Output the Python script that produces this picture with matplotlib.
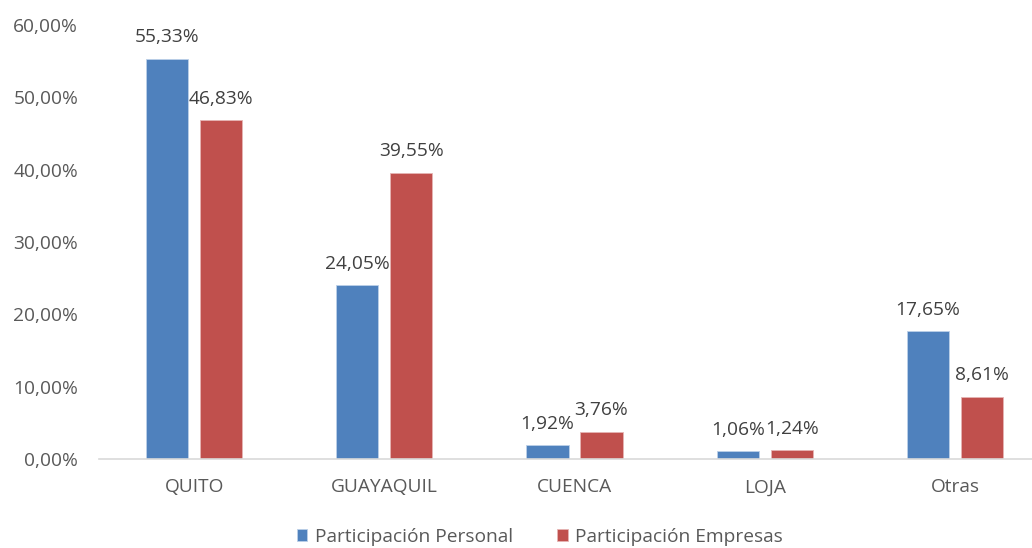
import matplotlib
matplotlib.use("Agg")
import matplotlib.pyplot as plt
import numpy as np
from matplotlib.ticker import FuncFormatter

categories = ["QUITO", "GUAYAQUIL", "CUENCA", "LOJA", "Otras"]
personal = [55.33, 24.05, 1.92, 1.06, 17.65]
empresas = [46.83, 39.55, 3.76, 1.24, 8.61]
series_names = ["Participación Personal", "Participación Empresas"]
yticks = [0, 10, 20, 30, 40, 50, 60]

plt.rcParams['font.family'] = ['Open Sans', 'DejaVu Sans']
FS = 13.8

fig = plt.figure(figsize=(10.32, 5.48), dpi=100)
ax = fig.add_axes([99/1032, 89/548, 951/1032, 434/548])

x = np.arange(len(categories))
w = 0.221
off = 0.142
blue = "#4F81BD"
red = "#C0504D"
b1 = ax.bar(x - off, personal, w, color=blue, edgecolor="#BCD0E8", linewidth=0.6, label=series_names[0])
b2 = ax.bar(x + off, empresas, w, color=red, edgecolor="#E5B5B4", linewidth=0.6, label=series_names[1])

fmt = lambda v: f"{v:.2f}".replace(".", ",") + "%"
for bars, vals in ((b1, personal), (b2, empresas)):
    for r, v in zip(bars, vals):
        ax.annotate(fmt(v), (r.get_x() + r.get_width()/2, v), xytext=(0, 9),
                    textcoords="offset points", ha="center", va="bottom",
                    fontsize=FS, color="#404040")

ax.set_xlim(-0.5, len(categories) - 0.5)
ax.set_ylim(0, 60)
ax.set_yticks(yticks)
ax.yaxis.set_major_formatter(FuncFormatter(lambda v, p: f"{v:.2f}".replace(".", ",") + "%"))
ax.set_xticks(x)
ax.set_xticklabels(categories)
ax.tick_params(axis="both", length=0, labelsize=FS, labelcolor="#595959")
ax.tick_params(axis="x", pad=14)
ax.tick_params(axis="y", pad=15)
for s in ("top", "right", "left"):
    ax.spines[s].set_visible(False)
ax.spines["bottom"].set_color("#D9D9D9")
ax.spines["bottom"].set_linewidth(1.2)
ax.spines["bottom"].set_clip_on(False)

leg = fig.legend(loc="center", bbox_to_anchor=(540/1032, 1 - 537/548), ncol=2, frameon=False,
                 fontsize=FS, handlelength=0.55, handleheight=0.55, handletextpad=0.4,
                 columnspacing=2.3)
for t in leg.get_texts():
    t.set_color("#595959")

fig.savefig("out.png", dpi=100)
